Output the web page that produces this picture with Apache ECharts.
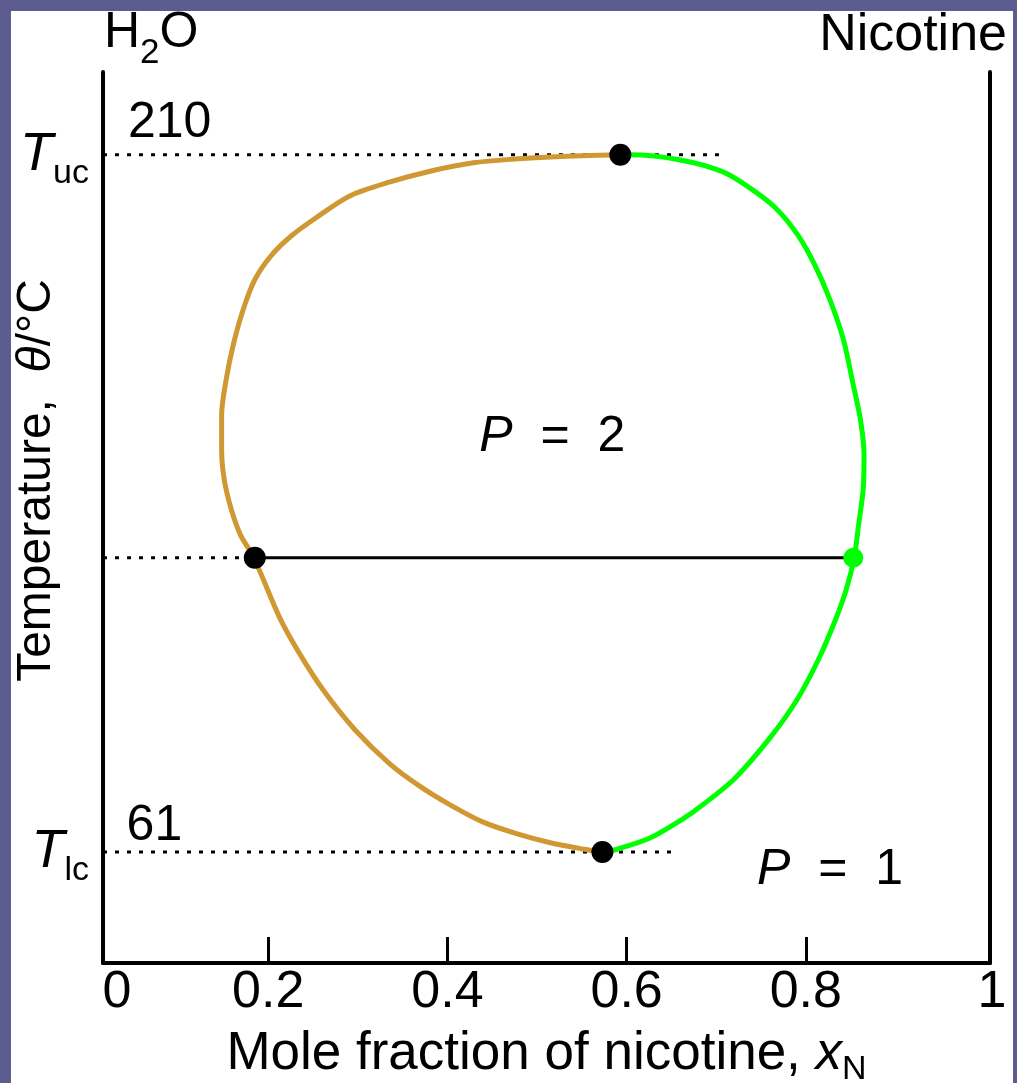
<!DOCTYPE html>
<html><head><meta charset="utf-8">
<script src="https://cdn.jsdelivr.net/npm/echarts@6/dist/echarts.min.js"></script>
<style>
html,body{margin:0;padding:0;background:#5c5c8f;width:1017px;height:1083px;overflow:hidden}
#chart{position:absolute;left:11px;top:11px;width:1002px;height:1072px;background:#fff}
</style></head><body><div id="chart"></div>
<script>
// ---- data ----
const xMin = 0.0156, xMax = 1.0056;   // axis frame extent (mole fraction)
const yMin = 37.3, yMax = 227.7;      // temperature extent (°C)
const xTickValues = [0.2, 0.4, 0.6, 0.8];
const xLabelValues = [0, 0.2, 0.4, 0.6, 0.8, 1];
const xLabelTexts = ['0', '0.2', '0.4', '0.6', '0.8', '1'];
const yMarkValues = [61, 210];
const yMarkSubs = ['lc', 'uc'];

// water-rich branch (orange), from upper critical point round to lower critical point
const waterRich = [[0.593,210],[0.521,209.6],[0.475,209.1],[0.429,208.3],[0.383,206.6],[0.336,204.2],[0.291,201.2],[0.253,196.5],[0.226,192.7],[0.204,188.6],[0.185,183.3],[0.172,176.9],[0.161,169.4],[0.153,161.9],[0.148,154.4],[0.148,146.9],[0.151,140.5],[0.159,134.1],[0.169,128.8],[0.184,123.9],[0.213,111.0],[0.236,103.1],[0.263,95.2],[0.297,87.1],[0.336,79.8],[0.369,75.1],[0.403,71.1],[0.440,67.4],[0.478,64.9],[0.515,63.0],[0.553,61.6],[0.573,61.0]];
// nicotine-rich branch (green)
const nicotineRich = [[0.593,210],[0.605,210.0],[0.660,208.9],[0.707,206.4],[0.737,203.0],[0.766,198.7],[0.791,192.9],[0.810,186.5],[0.827,179.0],[0.842,170.5],[0.853,160.8],[0.861,153.4],[0.865,145.9],[0.864,138.4],[0.859,131.0],[0.854,123.9],[0.845,117.0],[0.833,110.6],[0.814,102.1],[0.790,93.5],[0.760,85.4],[0.721,76.8],[0.685,71.1],[0.663,68.1],[0.626,64.0],[0.589,61.6],[0.573,61.0]];

const upperCritical = [0.593, 210];
const lowerCritical = [0.573, 61];
const tieLine = [[0.185, 123.9], [0.853, 123.9]];
const dottedUpper = [[xMin, 210], [0.7065, 210]];
const dottedLower = [[xMin, 61], [0.657, 61]];
const dottedTie = [[xMin, 123.9], [0.185, 123.9]];
const phaseLabels = [{pos:[0.517,149.7], text:'2'}, {pos:[0.827,57.2], text:'1'}];
const valueLabels = [{pos:[0.090,210], text:'210', gap:7}, {pos:[0.073,61], text:'61', gap:1}];

// ---- chart ----
const FONT = 'Liberation Sans, Arial, sans-serif';
const BLACK = '#000';
const ORANGE = '#cf9832';
const GREEN = '#00ff00';
const chart = echarts.init(document.getElementById('chart'));

const clampX = v => Math.min(Math.max(v, xMin), xMax);
const xLabelPos = xLabelValues.map(clampX);
function nearest(arr, v){let b=0;for(let i=1;i<arr.length;i++){if(Math.abs(arr[i]-v)<Math.abs(arr[b]-v))b=i;}return b;}

const dotted = {type:[4,8], width:3, color:BLACK, cap:'butt'};

chart.setOption({
  animation:false,
  backgroundColor:'#fff',
  title:[
    {text:'{h|H}{s|2}{h|O}', left:88, top:-21,
     textStyle:{fontFamily:FONT, fontWeight:'normal', color:BLACK, fontSize:50,
       rich:{h:{fontFamily:FONT,fontSize:50,color:BLACK,lineHeight:76},
             s:{fontFamily:FONT,fontSize:35,color:BLACK,lineHeight:35,verticalAlign:'bottom'}}}},
    {text:'Nicotine', right:1, top:-6,
     textStyle:{fontFamily:FONT, fontWeight:'normal', color:BLACK, fontSize:52}}
  ],
  grid:{left:92, top:61, width:887, height:891, outerBoundsMode:'none'},
  xAxis:{
    type:'value', min:xMin, max:xMax,
    splitLine:{show:false},
    axisLine:{show:true, lineStyle:{color:BLACK, width:4}},
    axisTick:{show:true, inside:true, length:26, customValues:xTickValues, lineStyle:{color:BLACK, width:3}},
    axisLabel:{
      customValues:xLabelPos, margin:4, color:BLACK, fontFamily:FONT, fontSize:52,
      formatter:v=>{const i=nearest(xLabelPos,v);const t=xLabelTexts[i];
        if(i===0)return '{z|'+t+'}'; if(i===xLabelTexts.length-1)return '{o|'+t+'}'; return '{d|'+t+'}';},
      rich:{d:{fontFamily:FONT,fontSize:52,color:BLACK},
            z:{fontFamily:FONT,fontSize:52,color:BLACK,padding:[0,0,0,28]},
            o:{fontFamily:FONT,fontSize:52,color:BLACK,padding:[0,0,0,14]}}
    },
    name:'{n|Mole fraction of nicotine, }{i|x}{s|N}',
    nameLocation:'middle', nameGap:58, nameMoveOverlap:false,
    nameTextStyle:{fontFamily:FONT, fontSize:53, color:BLACK,
      rich:{n:{fontFamily:FONT,fontSize:53,color:BLACK,lineHeight:66},
            i:{fontFamily:FONT,fontSize:53,color:BLACK,fontStyle:'italic',lineHeight:66},
            s:{fontFamily:FONT,fontSize:34,color:BLACK,lineHeight:34,verticalAlign:'bottom'}}}
  },
  yAxis:[{
    type:'value', min:yMin, max:yMax, position:'left',
    splitLine:{show:false},
    axisLine:{show:true, lineStyle:{color:BLACK, width:4}},
    axisTick:{show:false},
    axisLabel:{
      customValues:yMarkValues, margin:14, color:BLACK, fontFamily:FONT,
      formatter:v=>{const i=nearest(yMarkValues,v);return '{t|T}{s|'+yMarkSubs[i]+'}';},
      rich:{t:{fontFamily:FONT,fontSize:54,color:BLACK,fontStyle:'italic',lineHeight:72},
            s:{fontFamily:FONT,fontSize:34,color:BLACK,lineHeight:34,verticalAlign:'bottom'}}
    },
    name:'{n|Temperature,  }{i|θ}{n|/°C}',
    nameLocation:'middle', nameGap:42, nameRotate:90, nameMoveOverlap:false,
    nameTextStyle:{fontFamily:FONT, fontSize:48, color:BLACK, padding:[0,0,0,74],
      rich:{n:{fontFamily:FONT,fontSize:48,color:BLACK},
            i:{fontFamily:FONT,fontSize:48,color:BLACK,fontStyle:'italic'}}}
  },{
    type:'value', min:yMin, max:yMax, position:'right',
    splitLine:{show:false},
    axisLine:{show:true, lineStyle:{color:BLACK, width:4}},
    axisTick:{show:false}, axisLabel:{show:false}
  }],
  series:[
    {type:'line', data:dottedUpper, showSymbol:false, silent:true, lineStyle:dotted, z:1},
    {type:'line', data:dottedLower, showSymbol:false, silent:true, lineStyle:dotted, z:1},
    {type:'line', data:dottedTie, showSymbol:false, silent:true, lineStyle:dotted, z:1},
    {type:'line', data:tieLine, showSymbol:false, silent:true, lineStyle:{color:BLACK, width:3}, z:2},
    {type:'line', data:waterRich, smooth:0.3, showSymbol:false, silent:true, lineStyle:{color:ORANGE, width:5}, z:3},
    {type:'line', data:nicotineRich, smooth:0.3, showSymbol:false, silent:true, lineStyle:{color:GREEN, width:5}, z:3},
    {type:'scatter', data:[upperCritical, lowerCritical, tieLine[0]], symbol:'circle', symbolSize:22,
     itemStyle:{color:BLACK, opacity:1}, silent:true, z:5},
    {type:'scatter', data:[tieLine[1]], symbol:'circle', symbolSize:20, itemStyle:{color:GREEN, opacity:1}, silent:true, z:5},
    {type:'scatter', symbolSize:0, silent:true, z:6, itemStyle:{opacity:1},
     data:phaseLabels.map(p=>({value:p.pos, label:{formatter:'{i|P}{n|  =  '+p.text+'}'}})),
     label:{show:true, position:'inside', color:BLACK, opacity:1,
       rich:{i:{fontFamily:FONT,fontSize:50,color:BLACK,fontStyle:'italic'},
             n:{fontFamily:FONT,fontSize:50,color:BLACK}}}},
    {type:'scatter', symbolSize:0, silent:true, z:6, itemStyle:{opacity:1},
     data:valueLabels.map(p=>({value:p.pos, label:{formatter:p.text, distance:p.gap}})),
     label:{show:true, position:'top', color:BLACK, opacity:1, fontFamily:FONT, fontSize:50}}
  ]
});
</script></body></html>
